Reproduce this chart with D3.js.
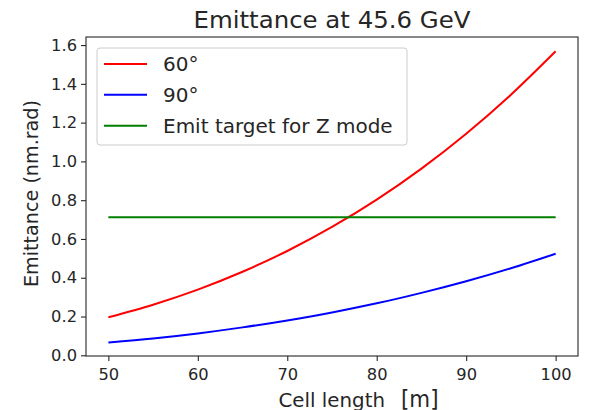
<!DOCTYPE html>
<html>
<head>
<meta charset="utf-8">
<script src="https://cdn.jsdelivr.net/npm/d3@7"></script>
<style>
  html, body { margin: 0; padding: 0; background: #fff; }
  svg text { font-family: "DejaVu Sans", sans-serif; fill: #262626; }
</style>
</head>
<body>
<svg id="chart" width="590" height="410"></svg>
<script>
// ---- data ----
const cellLength = [50, 55, 60, 65, 70, 75, 80, 85, 90, 95, 100];
const emit60 = [0.196, 0.261, 0.339, 0.431, 0.538, 0.662, 0.803, 0.963, 1.143, 1.344, 1.568];
const emit90 = [0.066, 0.087, 0.113, 0.144, 0.180, 0.221, 0.268, 0.322, 0.382, 0.449, 0.524];
const targetX = [50, 100];
const targetY = [0.712, 0.712];
const xTicks = [50, 60, 70, 80, 90, 100];
const yTicks = [0.0, 0.2, 0.4, 0.6, 0.8, 1.0, 1.2, 1.4, 1.6];
const seriesNames = ["60°", "90°", "Emit target for Z mode"];
const seriesColors = ["#ff0000", "#0000ff", "#008000"];

// ---- layout ----
const L = 86, R = 578, T = 37, B = 356;
const svg = d3.select("#chart");

const x = d3.scaleLinear().domain([47.5, 102.5]).range([L, R]);
const y = d3.scaleLinear().domain([-0.0036, 1.6416]).range([B, T]);

// lines
const line = d3.line().x(d => x(d[0])).y(d => y(d[1])).curve(d3.curveMonotoneX);
const series = [
  cellLength.map((c, i) => [c, emit60[i]]),
  cellLength.map((c, i) => [c, emit90[i]]),
  targetX.map((c, i) => [c, targetY[i]])
];
const plot = svg.append("g");
series.forEach((s, i) => {
  plot.append("path").datum(s).attr("d", line)
    .attr("fill", "none").attr("stroke", seriesColors[i]).attr("stroke-width", 2);
});

// axes
const xAxis = d3.axisBottom(x).tickValues(xTicks).tickSize(5).tickPadding(4).tickFormat(d3.format("d"));
const yAxis = d3.axisLeft(y).tickValues(yTicks).tickSize(5).tickPadding(4).tickFormat(d3.format(".1f"));
const gx = svg.append("g").attr("transform", `translate(0,${B})`).call(xAxis);
const gy = svg.append("g").attr("transform", `translate(${L},0)`).call(yAxis);
[gx, gy].forEach(g => {
  g.select(".domain").remove();
  g.selectAll(".tick line").attr("stroke", "#262626").attr("stroke-width", 1.1);
  g.selectAll(".tick text").style("font-family", "DejaVu Sans").style("font-size", "16.3px").attr("fill", "#262626");
});
gx.selectAll(".tick text").attr("dy", "0.95em");

// frame
svg.append("rect").attr("x", L).attr("y", T).attr("width", R - L).attr("height", B - T)
  .attr("fill", "none").attr("stroke", "#262626").attr("stroke-width", 1.1);

// title
svg.append("text").attr("x", (L + R) / 2).attr("y", 27.5).attr("text-anchor", "middle")
  .attr("textLength", 277).attr("lengthAdjust", "spacingAndGlyphs")
  .style("font-size", "23.5px").text("Emittance at 45.6 GeV");

// y label
svg.append("text").attr("transform", "translate(38,193.5) rotate(-90)")
  .attr("text-anchor", "middle").attr("textLength", 187).attr("lengthAdjust", "spacingAndGlyphs")
  .style("font-size", "19.5px").text("Emittance (nm.rad)");

// x label
svg.append("text").attr("x", 278.5).attr("y", 406.5)
  .attr("textLength", 106.5).attr("lengthAdjust", "spacingAndGlyphs")
  .style("font-size", "19.5px").text("Cell length");
svg.append("text").attr("x", 401).attr("y", 406.5)
  .attr("textLength", 37.5).attr("lengthAdjust", "spacingAndGlyphs")
  .style("font-size", "23px").text("[m]");

// legend
const lg = svg.append("g");
lg.append("rect").attr("x", 97).attr("y", 48).attr("width", 310).attr("height", 97)
  .attr("rx", 3).attr("fill", "#fff").attr("fill-opacity", 0.8)
  .attr("stroke", "#cccccc").attr("stroke-width", 1);
const rowY = d3.scalePoint().domain(seriesNames).range([64, 125.7]);
seriesNames.forEach((n, i) => {
  lg.append("line").attr("x1", 104).attr("x2", 147).attr("y1", rowY(n)).attr("y2", rowY(n))
    .attr("stroke", seriesColors[i]).attr("stroke-width", 2);
  lg.append("text").attr("x", 163).attr("y", rowY(n)).attr("dy", "0.36em")
    .style("font-size", "20px").text(n);
});
</script>
</body>
</html>
